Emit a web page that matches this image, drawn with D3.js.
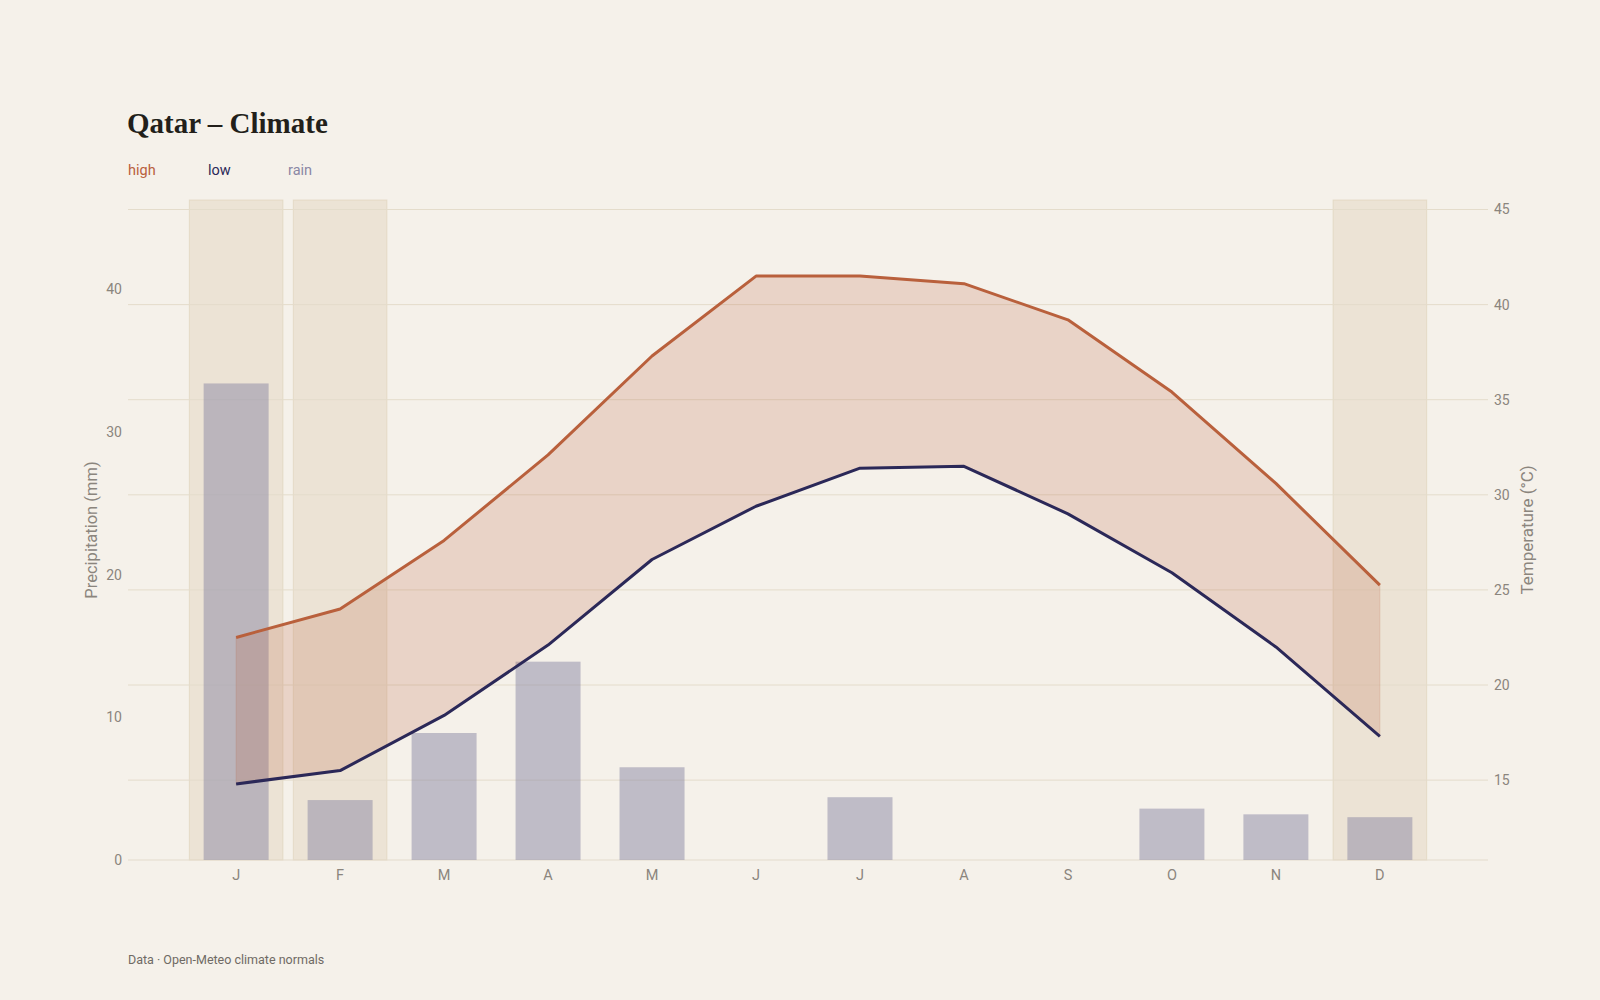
<!DOCTYPE html>
<html>
<head>
<meta charset="utf-8">
<script src="https://cdn.jsdelivr.net/npm/d3@7"></script>
<style>
  html, body { margin: 0; padding: 0; background: #f5f1ea; }
  svg { display: block; }
</style>
</head>
<body>
<svg id="chart" width="1600" height="1000"></svg>
<script>
const months = ["J","F","M","A","M","J","J","A","S","O","N","D"];
const highTemp = [22.5, 24.0, 27.6, 32.1, 37.3, 41.5, 41.5, 41.1, 39.2, 35.4, 30.6, 25.25];
const lowTemp  = [14.8, 15.5, 18.4, 22.1, 26.6, 29.4, 31.4, 31.5, 29.0, 25.9, 22.0, 17.3];
const rain     = [33.4, 4.2, 8.9, 13.9, 6.5, 0, 4.4, 0, 0, 3.6, 3.2, 3.0];
const coolMonths = [0, 1, 11];
const precipTicks = [0, 10, 20, 30, 40];
const tempTicks = [15, 20, 25, 30, 35, 40, 45];

const C = {
  bg: "#f5f1ea", high: "#b9603c", low: "#2b2858", rain: "#8a87a4",
  grid: "#e4dccb", tick: "#8b857d", title: "#221f1a", band: "#dccdb2"
};

const svg = d3.select("#chart");
svg.append("rect").attr("width", 1600).attr("height", 1000).attr("fill", C.bg);

const L = 128, R = 1488, T = 200, B = 860;

const x = d3.scaleBand().domain(d3.range(12)).range([L, R]).paddingInner(0).paddingOuter(0.54);
const cx = i => x(i) + x.bandwidth() / 2;
const step = x.step();

const tMin = d3.min(lowTemp) - 4, tMax = d3.max(highTemp) + 4;
const yT = d3.scaleLinear().domain([tMin, tMax]).range([B, T]);
const yP = d3.scaleLinear().domain([0, d3.max(rain) * 1.385]).range([B, T]);

// cool-month bands
svg.append("g").selectAll("rect").data(coolMonths).join("rect")
  .attr("x", d => cx(d) - step * 0.45)
  .attr("width", step * 0.9)
  .attr("y", T).attr("height", B - T)
  .attr("fill", C.band).attr("fill-opacity", 0.38)
  .attr("stroke", C.band).attr("stroke-opacity", 0.5).attr("stroke-width", 1);

// gridlines (temperature)
svg.append("g").selectAll("line").data(tempTicks).join("line")
  .attr("x1", L).attr("x2", R)
  .attr("y1", d => yT(d)).attr("y2", d => yT(d))
  .attr("stroke", C.grid).attr("stroke-width", 1);

// baseline
svg.append("line").attr("x1", L).attr("x2", R).attr("y1", B).attr("y2", B)
  .attr("stroke", C.grid).attr("stroke-width", 1.2);

// rain bars
svg.append("g").selectAll("rect").data(rain).join("rect")
  .attr("x", (d, i) => cx(i) - step * 0.3125)
  .attr("width", step * 0.625)
  .attr("y", d => yP(d))
  .attr("height", d => B - yP(d))
  .attr("fill", C.rain).attr("fill-opacity", 0.5);

// temperature range area
const idx = d3.range(12);
const area = d3.area().x(i => cx(i)).y0(i => yT(lowTemp[i])).y1(i => yT(highTemp[i]));
svg.append("path").datum(idx).attr("d", area)
  .attr("fill", C.high).attr("fill-opacity", 0.2)
  .attr("stroke", C.high).attr("stroke-opacity", 0.12).attr("stroke-width", 1.5);

const lineHigh = d3.line().x(i => cx(i)).y(i => yT(highTemp[i]));
const lineLow = d3.line().x(i => cx(i)).y(i => yT(lowTemp[i]));
svg.append("path").datum(idx).attr("d", lineHigh)
  .attr("fill", "none").attr("stroke", C.high).attr("stroke-width", 3).attr("stroke-linejoin", "round");
svg.append("path").datum(idx).attr("d", lineLow)
  .attr("fill", "none").attr("stroke", C.low).attr("stroke-width", 3).attr("stroke-linejoin", "round");

const sans = "Roboto, 'Noto Sans', sans-serif";

// left axis (precipitation)
const leftAxis = d3.axisLeft(yP).tickValues(precipTicks).tickSize(0).tickPadding(6);
const gl = svg.append("g").attr("transform", `translate(${L},0)`).call(leftAxis);
gl.select(".domain").remove();
gl.selectAll("text").attr("fill", C.tick).style("font-family", sans).style("font-size", "14px");

// right axis (temperature)
const rightAxis = d3.axisRight(yT).tickValues(tempTicks).tickSize(0).tickPadding(6);
const gr = svg.append("g").attr("transform", `translate(${R},0)`).call(rightAxis);
gr.select(".domain").remove();
gr.selectAll("text").attr("fill", C.tick).style("font-family", sans).style("font-size", "14px");

// bottom axis (months)
const bottomAxis = d3.axisBottom(x).tickFormat(i => months[i]).tickSize(0).tickPadding(10);
const gb = svg.append("g").attr("transform", `translate(0,${B})`).call(bottomAxis);
gb.select(".domain").remove();
gb.selectAll("text").attr("fill", C.tick).style("font-family", sans).style("font-size", "14.5px");

// axis titles
svg.append("text").attr("transform", `translate(97,${(T + B) / 2}) rotate(-90)`)
  .attr("text-anchor", "middle").attr("fill", C.tick)
  .style("font-family", sans).style("font-size", "16.5px").text("Precipitation (mm)");
svg.append("text").attr("transform", `translate(1533,${(T + B) / 2}) rotate(-90)`)
  .attr("text-anchor", "middle").attr("fill", C.tick)
  .style("font-family", sans).style("font-size", "17px").text("Temperature (°C)");

// title
svg.append("text").attr("x", 127).attr("y", 133)
  .attr("fill", C.title)
  .style("font-family", "'Liberation Serif', 'DejaVu Serif', serif")
  .style("font-weight", "700").style("font-size", "29px")
  .text("Qatar – Climate");

// legend
const legend = [["high", C.high], ["low", C.low], ["rain", C.rain]];
svg.append("g").selectAll("text").data(legend).join("text")
  .attr("x", (d, i) => 128 + i * 80).attr("y", 175)
  .attr("fill", d => d[1])
  .style("font-family", sans).style("font-size", "14.5px")
  .text(d => d[0]);

// footer
svg.append("text").attr("x", 128).attr("y", 964)
  .attr("fill", "#6f6a64").style("font-family", sans).style("font-size", "12.5px")
  .text("Data · Open-Meteo climate normals");
</script>
</body>
</html>
